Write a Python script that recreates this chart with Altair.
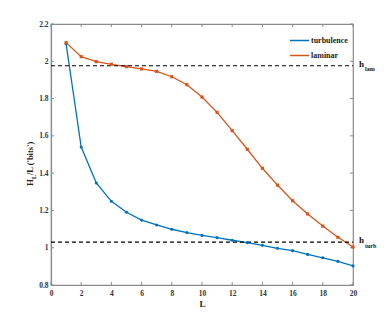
import altair as alt
import pandas as pd

# ---- data ----
L_values = list(range(1, 21))
turbulence = [2.094, 1.540, 1.347, 1.249, 1.190, 1.148, 1.122, 1.099, 1.081, 1.066,
              1.054, 1.040, 1.027, 1.013, 0.997, 0.984, 0.964, 0.946, 0.927, 0.903]
laminar = [2.100, 2.025, 1.998, 1.984, 1.971, 1.959, 1.946, 1.917, 1.874, 1.808,
           1.726, 1.628, 1.528, 1.426, 1.336, 1.252, 1.181, 1.116, 1.056, 1.004]
series_names = ["turbulence", "laminar"]
series_colors = ["#0072BD", "#D95319"]
series_shapes = ["circle", "square"]
h_levels = [1.976, 1.030]
h_subscripts = ["lam", "turb"]
x_ticks = [0, 2, 4, 6, 8, 10, 12, 14, 16, 18, 20]
y_ticks = [0.8, 1.0, 1.2, 1.4, 1.6, 1.8, 2.0, 2.2]
y_title_parts = ["H", "L", "/L ('bits')"]
x_title = "L"

W, H = 302, 261
FONT = "Liberation Serif"
AX = "#8a8a8a"

df = pd.DataFrame({
    "L": L_values * 2,
    "value": turbulence + laminar,
    "series": [series_names[0]] * len(L_values) + [series_names[1]] * len(L_values),
})
hdf = pd.DataFrame({"level": h_levels, "h": ["h", "h"], "sub": h_subscripts})
xt = pd.DataFrame({"t": x_ticks})
yt = pd.DataFrame({"t": y_ticks})

xscale = alt.Scale(domain=[0, 20], nice=False)
yscale = alt.Scale(domain=[0.8, 2.2], nice=False, zero=False)

x_axis = alt.Axis(values=x_ticks, title=x_title, ticks=False, tickSize=0,
                  grid=False, domainColor=AX, domainWidth=1.2,
                  labelOverlap=False, labelFlush=False,
                  labelFont=FONT, labelFontWeight="bold", labelFontSize=7.5,
                  labelColor="#333", labelPadding=4,
                  titleFont=FONT, titleFontWeight="bold", titleFontSize=9,
                  titleColor="#222", titlePadding=3)
y_axis = alt.Axis(values=y_ticks, title=None, ticks=False, tickSize=0,
                  grid=False, format="~g", domainColor=AX, domainWidth=1.2,
                  labelOverlap=False, labelFlush=False,
                  labelFont=FONT, labelFontWeight="bold", labelFontSize=7.5,
                  labelColor="#333", labelPadding=3)


def X(field):
    return alt.X(field, scale=xscale, axis=x_axis, title=x_title)


def Y(field):
    return alt.Y(field, scale=yscale, axis=y_axis, title=None)


color = alt.Color("series:N",
                  scale=alt.Scale(domain=series_names, range=series_colors),
                  legend=alt.Legend(title=None, orient="none", legendX=238, legendY=6,
                                    symbolType="stroke", symbolSize=360,
                                    symbolStrokeWidth=1.5, labelFont=FONT,
                                    labelFontWeight="bold", labelFontSize=8,
                                    labelColor="#222", rowPadding=0, labelOffset=1,
                                    padding=0))

lines = alt.Chart(df).mark_line(strokeWidth=1.3).encode(
    x=X("L:Q"), y=Y("value:Q"), color=color, detail="series:N")

pt_layers = []
for name, col, shp in zip(series_names, series_colors, series_shapes):
    pt_layers.append(
        alt.Chart(df).transform_filter(alt.datum.series == name)
        .mark_point(filled=True, opacity=1, shape=shp, size=10, color=col)
        .encode(x=X("L:Q"), y=Y("value:Q")))

dashes = alt.Chart(hdf).mark_rule(color="black", strokeDash=[4, 3], strokeWidth=1.2).encode(
    y=Y("level:Q"), x=alt.value(0), x2=alt.value(W))

h_main = alt.Chart(hdf).mark_text(font=FONT, fontWeight="bold", fontSize=9, align="left",
                                  baseline="middle", dy=-2, color="#111").encode(
    y=Y("level:Q"), x=alt.value(W + 6), text="h:N")
h_sub = alt.Chart(hdf).mark_text(font=FONT, fontWeight="bold", fontSize=6, align="left",
                                 baseline="middle", dy=3.5, color="#111").encode(
    y=Y("level:Q"), x=alt.value(W + 12), text="sub:N")

# inward tick marks (MATLAB style) on all four sides
tb = alt.Chart(xt).mark_rule(color=AX, strokeWidth=1).encode(
    x=X("t:Q"), y=alt.value(H), y2=alt.value(H - 3))
tt = alt.Chart(xt).mark_rule(color=AX, strokeWidth=1).encode(
    x=X("t:Q"), y=alt.value(0), y2=alt.value(3))
tl = alt.Chart(yt).mark_rule(color=AX, strokeWidth=1).encode(
    y=Y("t:Q"), x=alt.value(0), x2=alt.value(3))
tr = alt.Chart(yt).mark_rule(color=AX, strokeWidth=1).encode(
    y=Y("t:Q"), x=alt.value(W), x2=alt.value(W - 3))

# y-axis title with subscript
yt1 = alt.Chart(pd.DataFrame({"s": [y_title_parts[0]]})).mark_text(
    font=FONT, fontWeight="bold", fontSize=9, angle=270, align="left",
    baseline="middle", color="#222").encode(
    text="s:N", x=alt.value(-21), y=alt.value(162))
yt2 = alt.Chart(pd.DataFrame({"s": [y_title_parts[1]]})).mark_text(
    font=FONT, fontWeight="bold", fontSize=6, angle=270, align="left",
    baseline="middle", color="#222").encode(
    text="s:N", x=alt.value(-17.5), y=alt.value(155))
yt3 = alt.Chart(pd.DataFrame({"s": [y_title_parts[2]]})).mark_text(
    font=FONT, fontWeight="bold", fontSize=8.5, angle=270, align="left",
    baseline="middle", color="#222").encode(
    text="s:N", x=alt.value(-21), y=alt.value(151))

chart = alt.layer(lines, tb, tt, tl, tr, dashes, *pt_layers, h_main, h_sub, yt1, yt2, yt3).properties(
    width=W, height=H,
    autosize=alt.AutoSizeParams(type="none"),
    padding={"left": 43, "top": 16, "right": 30, "bottom": 28},
    background="white",
).configure_view(stroke=AX, strokeWidth=1.2)

chart.save("out.html", embed_options={"renderer": "svg", "actions": False})
